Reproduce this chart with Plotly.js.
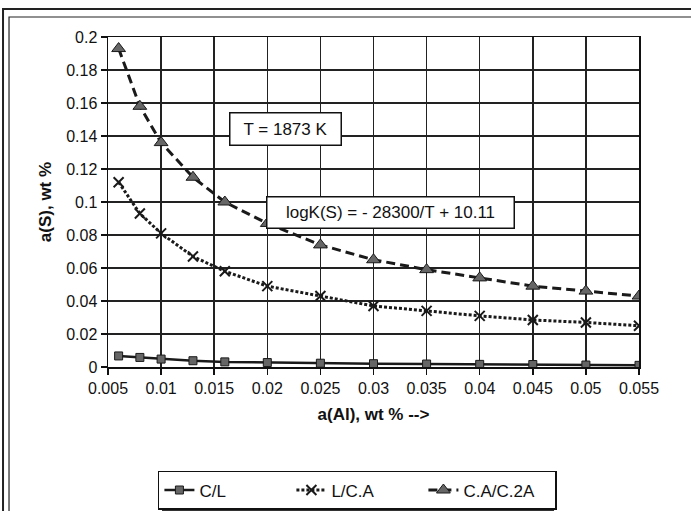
<!DOCTYPE html>
<html>
<head>
<meta charset="utf-8">
<script src="https://cdn.plot.ly/plotly-3.0.1.min.js"></script>
<style>html,body{margin:0;padding:0;background:#fff;}#chart{width:691px;height:511px;}</style>
</head>
<body>
<div id="chart"></div>
<script>
// a(Al), wt %
const aAl = [0.006, 0.008, 0.01, 0.013, 0.016, 0.02, 0.025, 0.03, 0.035, 0.04, 0.045, 0.05, 0.055];
// a(S), wt % for each equilibrium
const sCL   = [0.0067, 0.0058, 0.0048, 0.0038, 0.0031, 0.0027, 0.0023, 0.0020, 0.0018, 0.0016, 0.0015, 0.0012, 0.0010];
const sLCA  = [0.112, 0.093, 0.081, 0.067, 0.058, 0.049, 0.043, 0.037, 0.034, 0.031, 0.0285, 0.027, 0.025];
const sCA2A = [0.193, 0.158, 0.136, 0.115, 0.100, 0.087, 0.074, 0.065, 0.059, 0.054, 0.049, 0.046, 0.043];
const seriesNames = ["C/L", "L/C.A", "C.A/C.2A"];
const xTickVals = [0.005, 0.01, 0.015, 0.02, 0.025, 0.03, 0.035, 0.04, 0.045, 0.05, 0.055];
const xTickText = ["0.005", "0.01", "0.015", "0.02", "0.025", "0.03", "0.035", "0.04", "0.045", "0.05", "0.055"];
const yTickVals = [0, 0.02, 0.04, 0.06, 0.08, 0.1, 0.12, 0.14, 0.16, 0.18, 0.2];
const yTickText = ["0", "0.02", "0.04", "0.06", "0.08", "0.1", "0.12", "0.14", "0.16", "0.18", "0.2"];
const noteT = "T = 1873 K";
const noteK = "logK(S) = - 28300/T + 10.11";

const FONT = "Liberation Sans, Arial, sans-serif";
const traces = [
  {x: aAl, y: sCL, name: seriesNames[0], type: "scatter", mode: "lines+markers",
   line: {color: "#1a1a1a", width: 2.5},
   marker: {symbol: "square", size: 8, color: "#666", line: {color: "#1a1a1a", width: 1}}},
  {x: aAl, y: sLCA, name: seriesNames[1], type: "scatter", mode: "lines+markers",
   line: {color: "#1a1a1a", width: 3, dash: "3px,2px"},
   marker: {symbol: "x-thin", size: 10, color: "#1a1a1a", line: {color: "#1a1a1a", width: 2}}},
  {x: aAl, y: sCA2A, name: seriesNames[2], type: "scatter", mode: "lines+markers",
   line: {color: "#1a1a1a", width: 3, dash: "9px,5px"},
   marker: {symbol: "triangle-up", size: 12, color: "#666", line: {color: "#1a1a1a", width: 1}}}
];

const layout = {
  width: 691, height: 511,
  margin: {l: 108, r: 52, t: 37, b: 144, autoexpand: false},
  paper_bgcolor: "#fff", plot_bgcolor: "#fff",
  font: {family: FONT, size: 16, color: "#111"},
  showlegend: true,
  legend: {orientation: "h", x: 0.094, y: -0.315, xanchor: "left", yanchor: "top",
           bgcolor: "#fff", bordercolor: "#111", borderwidth: 1.5,
           font: {family: FONT, size: 17, color: "#111"},
           entrywidth: 87, entrywidthmode: "pixels", itemwidth: 30},
  xaxis: {range: [0.005, 0.055], tickvals: xTickVals, ticktext: xTickText,
          showgrid: true, gridcolor: "#222", gridwidth: 1.5, zeroline: false,
          showline: true, mirror: true, linecolor: "#111", linewidth: 1.5,
          ticks: "outside", ticklen: 6, tickcolor: "#111", tickwidth: 1.5,
          tickfont: {family: FONT, size: 16, color: "#111"},
          title: {text: "a(Al), wt % -->", font: {family: FONT, size: 17, color: "#111", weight: "bold"}, standoff: 12}},
  yaxis: {range: [0, 0.2], tickvals: yTickVals, ticktext: yTickText,
          showgrid: true, gridcolor: "#222", gridwidth: 1.5, zeroline: false,
          showline: true, mirror: true, linecolor: "#111", linewidth: 1.5,
          ticks: "outside", ticklen: 6, tickcolor: "#111", tickwidth: 1.5,
          tickfont: {family: FONT, size: 16, color: "#111"},
          title: {text: "a(S), wt %", font: {family: FONT, size: 17, color: "#111", weight: "bold"}, standoff: 10}},
  annotations: [
    {text: noteT, xref: "paper", yref: "paper", x: 0.335, y: 0.773, showarrow: false,
     font: {family: FONT, size: 17, color: "#111"}, bgcolor: "#fff", bordercolor: "#111",
     borderwidth: 1.5, width: 108, height: 29},
    {text: noteK, xref: "paper", yref: "paper", x: 0.532, y: 0.468, showarrow: false,
     font: {family: FONT, size: 17, color: "#111"}, bgcolor: "#fff", bordercolor: "#111",
     borderwidth: 1.5, width: 244, height: 28}
  ],
  shapes: [
    {type: "rect", xref: "paper", yref: "paper", x0: -0.1977, x1: 1.2, y0: -0.6, y1: 1.0848,
     line: {color: "#222", width: 2}, layer: "below"},
    {type: "rect", xref: "paper", yref: "paper", x0: -0.1864, x1: 1.2, y0: -0.6, y1: 1.0606,
     line: {color: "#222", width: 1.2}, layer: "below"},
    {type: "rect", xref: "paper", yref: "paper", x0: 0.1017, x1: 0.840, y0: -0.445, y1: -0.327,
     fillcolor: "#333", line: {width: 0}, layer: "above"}
  ]
};

Plotly.newPlot("chart", traces, layout, {displayModeBar: false, staticPlot: true});
</script>
</body>
</html>
